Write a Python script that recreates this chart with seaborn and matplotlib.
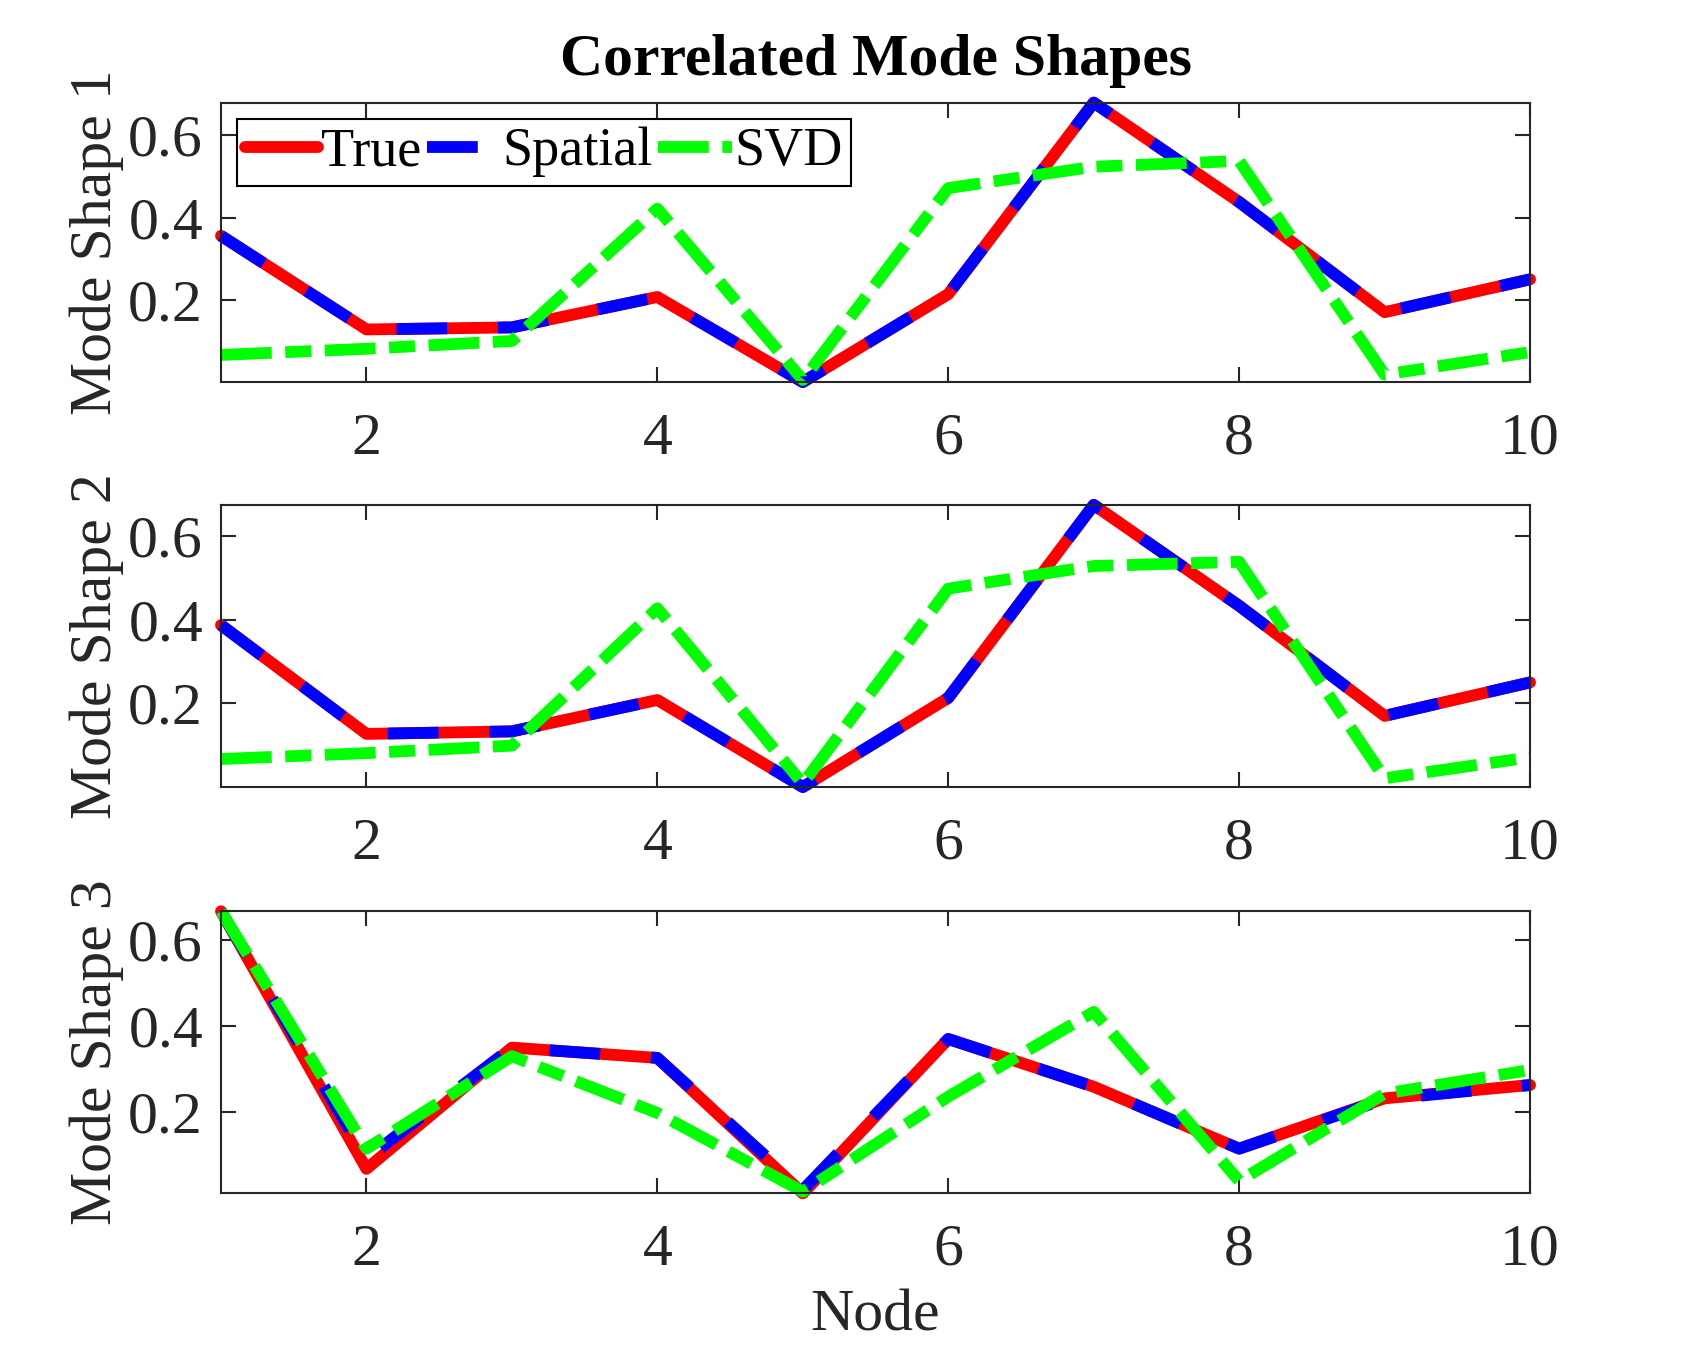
import matplotlib
matplotlib.use("Agg")
import matplotlib.pyplot as plt
import seaborn as sns

nodes = [1, 2, 3, 4, 5, 6, 7, 8, 9, 10]

mode1_true = [0.356, 0.128, 0.133, 0.207, 0.000, 0.214, 0.680, 0.438, 0.170, 0.250]
mode1_spatial = [0.356, 0.128, 0.133, 0.207, 0.000, 0.214, 0.680, 0.438, 0.170, 0.250]
mode1_svd = [0.066, 0.081, 0.100, 0.422, 0.005, 0.472, 0.524, 0.538, 0.018, 0.073]

mode2_true = [0.387, 0.127, 0.133, 0.208, 0.000, 0.213, 0.674, 0.433, 0.170, 0.250]
mode2_spatial = [0.387, 0.127, 0.133, 0.208, 0.000, 0.213, 0.674, 0.433, 0.170, 0.250]
mode2_svd = [0.067, 0.081, 0.099, 0.427, 0.008, 0.474, 0.528, 0.538, 0.021, 0.071]

mode3_true = [0.667, 0.068, 0.350, 0.326, 0.011, 0.370, 0.259, 0.115, 0.232, 0.263]
mode3_spatial = [0.667, 0.092, 0.350, 0.326, 0.019, 0.370, 0.259, 0.115, 0.230, 0.263]
mode3_svd = [0.667, 0.115, 0.330, 0.198, 0.015, 0.236, 0.433, 0.040, 0.243, 0.298]

series_labels = ["True", "Spatial", "SVD"]
ylabels = ["Mode Shape 1", "Mode Shape 2", "Mode Shape 3"]
xticks = [2, 4, 6, 8, 10]
yticks = [0.2, 0.4, 0.6]
title = "Correlated Mode Shapes"
xlabel = "Node"

modes = [
    (mode1_true, mode1_spatial, mode1_svd),
    (mode2_true, mode2_spatial, mode2_svd),
    (mode3_true, mode3_spatial, mode3_svd),
]

sns.set_style("ticks")
plt.rcParams["font.family"] = ["Liberation Serif", "DejaVu Serif"]

FS = 43
LW = 8.5
axc = (0.15, 0.15, 0.15)

fig = plt.figure(figsize=(16.92, 13.5), dpi=100)
left, width = 0.1306, 0.7737
boxes = [(0.717, 0.207), (0.417, 0.209), (0.116, 0.209)]

styles = [
    dict(color=(1, 0, 0), linestyle="-"),
    dict(color=(0, 0, 1), linestyle=(0, (4.3, 4.3))),
    dict(color=(0, 1, 0), linestyle=(0, (4.3, 1.15, 2.2, 1.15))),
]

axes = []
for i, (b, h) in enumerate(boxes):
    ax = fig.add_axes([left, b, width, h])
    axes.append(ax)
    data = modes[i]
    for vals, lab, st in zip(data, series_labels, styles):
        sns.lineplot(x=nodes, y=vals, ax=ax, label=lab, lw=LW, clip_on=False,
                     sort=False, legend=False, **st)
    allv = [v for s in data for v in s]
    ax.set_xlim(min(nodes), max(nodes))
    ax.set_ylim(min(allv), max(allv))
    ax.set_xticks(xticks)
    ax.set_xticklabels([str(t) for t in xticks])
    ax.set_yticks(yticks)
    ax.set_yticklabels([f"{t:.1f}" for t in yticks])
    ax.tick_params(axis="both", direction="in", top=True, right=True,
                   length=11, width=1.5, color=axc, labelcolor=axc,
                   labelsize=FS)
    ax.tick_params(axis="x", pad=22)
    ax.tick_params(axis="y", pad=13)
    for sp in ax.spines.values():
        sp.set_visible(True)
        sp.set_color(axc)
        sp.set_linewidth(1.5)
    ax.set_ylabel(ylabels[i], fontsize=FS, color=axc, labelpad=3)
    ax.set_xlabel("")

axes[0].set_title(title, fontsize=FS, fontweight="bold", color="black", pad=20)
axes[2].set_xlabel(xlabel, fontsize=FS, color=axc, labelpad=8)

leg = axes[0].legend(loc="upper left", ncol=3, fontsize=39, frameon=True,
                     fancybox=False, shadow=False, framealpha=1,
                     edgecolor="black", handlelength=1.35, handletextpad=0.05,
                     columnspacing=0.1, borderpad=0.15, borderaxespad=0.3)
leg.get_frame().set_linewidth(1.5)
for t in leg.get_texts():
    t.set_color("black")

fig.savefig("out.png", dpi=100)
